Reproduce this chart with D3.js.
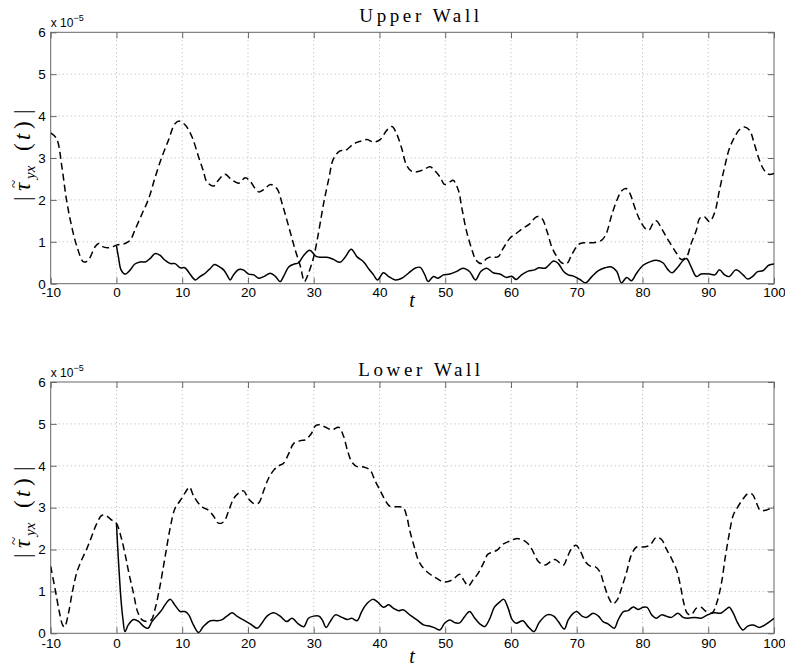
<!DOCTYPE html>
<html>
<head>
<meta charset="utf-8">
<script src="https://cdnjs.cloudflare.com/ajax/libs/d3/7.8.5/d3.min.js"></script>
<style>
    body { margin: 0; background: #fff; }
    svg { display: block; }
</style>
</head>
<body>
<svg id="mainSVG" width="785" height="670"></svg>
<script>
// ticks
const xTicks = [-10, 0, 10, 20, 30, 40, 50, 60, 70, 80, 90, 100];
const yTicks = [0, 1, 2, 3, 4, 5, 6];

// values in units of 1e-5, [t, |tau|]
const upperDashed = [[-10,3.6],[-9.1,3.46],[-8.3,2.79],[-7.6,2.0],[-6.8,1.36],[-6.0,0.88],[-5.0,0.52],[-4.3,0.56],[-3.25,0.88],[-2.7,0.96],[-2.0,0.88],[-1.0,0.86],[0,0.92],[1.3,0.96],[2.1,1.04],[2.8,1.28],[3.9,1.67],[4.9,2.03],[5.9,2.55],[6.9,3.02],[7.9,3.42],[8.9,3.82],[9.6,3.88],[10.5,3.78],[11.5,3.5],[12.5,3.02],[13.2,2.7],[13.75,2.43],[14.8,2.33],[15.5,2.47],[16.5,2.61],[17.6,2.47],[18.6,2.4],[19.6,2.53],[20.4,2.43],[21.1,2.27],[21.7,2.19],[22.6,2.27],[23.4,2.37],[24.4,2.27],[25.2,1.91],[26.2,1.36],[27.2,0.8],[28.0,0.4],[28.6,0.05],[29.2,0.25],[30,0.64],[30.8,1.28],[31.5,1.91],[32.3,2.51],[33.0,2.98],[34.0,3.17],[34.8,3.18],[36.1,3.34],[37.1,3.4],[38.1,3.44],[39.1,3.38],[40.1,3.44],[41.1,3.66],[41.9,3.75],[42.6,3.58],[43.4,3.22],[44.1,2.83],[44.9,2.68],[45.7,2.67],[46.7,2.72],[47.7,2.79],[48.4,2.7],[49.2,2.55],[49.9,2.37],[50.7,2.43],[51.2,2.47],[52.0,2.23],[52.5,1.83],[53.2,1.28],[54.0,0.84],[54.7,0.56],[55.5,0.48],[56.3,0.6],[57.0,0.64],[58.0,0.64],[58.8,0.84],[59.8,1.08],[60.8,1.2],[61.8,1.32],[62.8,1.42],[63.9,1.6],[64.7,1.56],[65.5,1.24],[66.2,0.88],[67.0,0.64],[67.7,0.5],[68.5,0.48],[69.2,0.68],[70.3,0.94],[71.3,0.98],[72.5,0.98],[73.8,1.04],[74.5,1.2],[75.3,1.63],[76.1,1.99],[76.8,2.21],[77.5,2.27],[78.1,2.15],[78.8,1.83],[79.6,1.52],[80.4,1.32],[81.0,1.28],[81.6,1.44],[82.1,1.5],[82.9,1.32],[83.6,1.12],[84.4,0.92],[85.2,0.72],[85.9,0.58],[86.7,0.64],[87.4,0.96],[88.2,1.28],[88.7,1.56],[89.4,1.6],[90.2,1.48],[91.0,1.71],[91.7,2.23],[92.5,2.79],[93.2,3.22],[94.0,3.5],[94.7,3.67],[95.5,3.74],[96.3,3.66],[97.0,3.34],[97.8,2.94],[98.5,2.71],[99.2,2.61],[100,2.63]];

const upperSolid = [[0,0.9],[0.3,0.64],[0.7,0.33],[1.3,0.23],[2.1,0.33],[2.8,0.47],[3.6,0.52],[4.4,0.52],[5.1,0.6],[5.9,0.72],[6.6,0.68],[7.4,0.56],[8.2,0.48],[8.9,0.48],[9.7,0.38],[10.4,0.38],[11.1,0.25],[12.0,0.09],[12.7,0.17],[13.5,0.25],[14.3,0.37],[14.9,0.46],[15.5,0.42],[16.3,0.33],[16.8,0.21],[17.3,0.09],[17.8,0.21],[18.6,0.34],[19.3,0.33],[20.1,0.23],[20.9,0.21],[21.6,0.13],[22.4,0.17],[23.4,0.25],[24.2,0.17],[24.9,0.05],[25.4,0.17],[26.2,0.4],[26.9,0.46],[27.7,0.5],[28.5,0.68],[29.4,0.8],[30.3,0.66],[31.0,0.63],[32.0,0.63],[33.0,0.58],[34.0,0.51],[34.8,0.64],[35.7,0.82],[36.6,0.64],[37.6,0.52],[38.3,0.37],[39.1,0.21],[39.7,0.09],[40.6,0.26],[41.4,0.17],[42.4,0.09],[43.4,0.13],[44.4,0.25],[45.4,0.37],[46.2,0.39],[46.9,0.21],[47.4,0.05],[48.2,0.17],[48.9,0.13],[49.7,0.21],[50.7,0.23],[51.7,0.29],[52.7,0.37],[53.7,0.29],[54.6,0.09],[55.4,0.29],[56.3,0.37],[57.3,0.26],[58.3,0.23],[59.3,0.15],[60.1,0.18],[60.8,0.1],[61.6,0.21],[62.6,0.3],[63.6,0.33],[64.2,0.38],[65.2,0.37],[66.5,0.54],[67.2,0.48],[68.0,0.29],[68.7,0.21],[69.5,0.18],[70.5,0.1],[71.3,0.02],[72.3,0.17],[73.3,0.31],[74.3,0.38],[75.3,0.4],[76.1,0.29],[76.8,0.02],[77.6,0.15],[78.3,0.07],[79.1,0.25],[80.1,0.44],[81.1,0.52],[82.1,0.56],[83.1,0.5],[83.9,0.33],[84.5,0.26],[85.4,0.4],[86.2,0.56],[86.7,0.6],[87.4,0.4],[88.2,0.17],[88.9,0.23],[90.2,0.23],[91.0,0.21],[91.7,0.33],[92.5,0.21],[93.2,0.17],[94.2,0.33],[95.3,0.21],[96.0,0.11],[96.8,0.18],[97.5,0.29],[98.3,0.31],[99.2,0.44],[100,0.47]];

const lowerDashed = [[-10,1.6],[-9.3,1.03],[-8.7,0.52],[-8.2,0.2],[-7.9,0.15],[-7.3,0.48],[-6.7,0.99],[-6.0,1.47],[-5.3,1.75],[-4.5,2.02],[-3.8,2.3],[-3.0,2.62],[-2.2,2.82],[-1.5,2.8],[-0.7,2.7],[0,2.62],[0.7,2.3],[1.3,1.9],[1.9,1.43],[2.6,0.95],[3.2,0.52],[3.9,0.32],[4.6,0.28],[5.3,0.32],[5.9,0.6],[6.6,1.11],[7.4,1.83],[8.2,2.54],[8.9,2.98],[9.7,3.17],[10.5,3.37],[11.1,3.49],[11.7,3.29],[12.5,3.1],[13.2,3.0],[14.0,2.94],[14.8,2.79],[15.5,2.63],[16.3,2.66],[17.1,2.94],[17.8,3.21],[18.6,3.35],[19.3,3.4],[20.1,3.21],[20.9,3.1],[21.6,3.11],[22.4,3.41],[23.1,3.69],[23.9,3.89],[24.7,4.0],[25.4,4.06],[26.2,4.29],[27.0,4.54],[28.0,4.6],[28.7,4.62],[29.6,4.76],[30.3,4.96],[31.0,4.98],[31.8,4.92],[32.8,4.86],[33.8,4.92],[34.5,4.72],[35.2,4.33],[35.8,4.09],[36.6,3.98],[37.6,3.97],[38.6,3.89],[39.3,3.65],[40.1,3.41],[40.9,3.17],[41.6,3.03],[42.6,3.02],[43.6,3.0],[44.1,2.82],[44.6,2.46],[45.3,2.06],[45.9,1.75],[46.7,1.55],[47.7,1.41],[48.7,1.31],[49.7,1.23],[50.7,1.25],[51.5,1.33],[52.2,1.41],[52.8,1.27],[53.5,1.13],[54.2,1.27],[55.0,1.43],[55.8,1.67],[56.5,1.89],[57.3,1.94],[58.0,2.0],[58.8,2.13],[59.8,2.2],[60.8,2.26],[61.6,2.24],[62.3,2.18],[62.9,2.08],[63.4,1.94],[64.2,1.71],[65.2,1.63],[66.0,1.71],[66.7,1.76],[67.5,1.67],[68.0,1.63],[68.6,1.83],[69.2,2.02],[69.9,2.1],[70.5,1.98],[71.3,1.71],[72.0,1.61],[72.8,1.59],[73.5,1.47],[74.1,1.19],[74.8,0.87],[75.5,0.7],[76.2,0.81],[76.8,1.07],[77.6,1.47],[78.3,1.87],[79.1,2.06],[80.1,2.06],[81.1,2.1],[82.1,2.29],[82.9,2.24],[83.6,2.02],[84.4,1.79],[85.2,1.51],[85.8,1.11],[86.3,0.71],[86.8,0.48],[87.4,0.44],[88.2,0.6],[88.9,0.62],[89.7,0.52],[90.6,0.49],[91.3,0.73],[92.0,1.19],[92.6,1.83],[93.2,2.38],[93.8,2.82],[94.5,3.02],[95.3,3.21],[96.0,3.33],[96.7,3.32],[97.3,3.13],[97.9,2.94],[98.8,2.94],[100,3.02]];

const lowerSolid = [[0,2.62],[0.3,1.75],[0.7,0.79],[1.0,0.32],[1.3,0.04],[1.8,0.2],[2.6,0.33],[3.4,0.28],[4.1,0.17],[4.8,0.12],[5.4,0.28],[6.1,0.41],[6.9,0.56],[7.7,0.75],[8.2,0.81],[8.9,0.67],[9.7,0.52],[10.4,0.52],[11.0,0.44],[11.7,0.2],[12.5,0.02],[13.2,0.16],[14.3,0.3],[15.3,0.3],[16.0,0.32],[16.8,0.41],[17.6,0.49],[18.3,0.41],[19.3,0.32],[20.4,0.22],[21.4,0.12],[22.1,0.24],[22.9,0.41],[23.9,0.49],[24.9,0.41],[25.9,0.28],[26.7,0.36],[27.7,0.22],[28.5,0.16],[29.2,0.36],[30.0,0.41],[30.8,0.41],[31.3,0.32],[31.9,0.14],[32.5,0.28],[33.3,0.44],[34.3,0.38],[35.1,0.33],[35.8,0.36],[36.6,0.3],[37.3,0.52],[38.1,0.71],[39.0,0.81],[39.7,0.75],[40.6,0.62],[41.4,0.68],[42.1,0.6],[42.9,0.54],[43.6,0.56],[44.6,0.44],[45.7,0.32],[46.7,0.2],[47.7,0.17],[48.4,0.13],[49.2,0.08],[49.9,0.24],[50.7,0.32],[51.5,0.25],[52.2,0.25],[53.0,0.41],[53.7,0.52],[54.5,0.36],[55.3,0.22],[56.0,0.16],[56.8,0.36],[57.5,0.63],[58.3,0.75],[58.9,0.81],[59.5,0.63],[60.2,0.32],[60.8,0.24],[61.8,0.3],[62.6,0.16],[63.5,0.04],[64.3,0.26],[65.5,0.44],[66.5,0.41],[67.2,0.28],[68.1,0.1],[68.7,0.32],[69.5,0.48],[70.0,0.52],[70.8,0.41],[71.5,0.38],[72.5,0.48],[73.3,0.41],[74.0,0.28],[74.8,0.22],[75.7,0.12],[76.3,0.32],[77.1,0.52],[77.8,0.54],[78.6,0.63],[79.3,0.57],[80.1,0.62],[80.7,0.62],[81.4,0.44],[82.1,0.36],[82.9,0.44],[83.6,0.41],[84.4,0.38],[85.4,0.48],[86.2,0.38],[86.9,0.36],[87.9,0.38],[88.9,0.36],[89.9,0.44],[90.9,0.49],[91.9,0.48],[92.7,0.57],[93.2,0.62],[93.8,0.48],[94.5,0.24],[95.3,0.08],[96.0,0.17],[96.8,0.2],[97.8,0.14],[98.8,0.22],[100,0.36]];

const svg = d3.select("#mainSVG");
const left = 50.7, right = 774;
const sq = 0.9;   // picture is a little squashed vertically
const frameColor = "#666";

const panels = [
    {id: "up", title: "Upper Wall", dashed: upperDashed, solid: upperSolid, top: 32.3, bottom: 283.7, titleY: 21.5, tickY: 13, xlabY: 307, ylabY: 154},
    {id: "lo", title: "Lower Wall", dashed: lowerDashed, solid: lowerSolid, top: 382, bottom: 633.3, titleY: 375.5, tickY: 15, xlabY: 663, ylabY: 511}
];

panels.forEach(drawPanel);

function drawPanel(p) {
    const x = d3.scaleLinear().domain([-10, 100]).range([left, right]);
    const y = d3.scaleLinear().domain([0, 6]).range([p.bottom, p.top]);
    const g = svg.append("g");

    g.append("clipPath").attr("id", "clip-" + p.id)
        .append("rect")
        .attr("x", left).attr("y", p.top)
        .attr("width", right - left).attr("height", p.bottom - p.top);

    // dotted grid
    g.append("g").selectAll("line")
        .data(xTicks.slice(1, -1))
        .join("line")
        .attr("x1", d => x(d)).attr("x2", d => x(d))
        .attr("y1", p.top).attr("y2", p.bottom)
        .attr("stroke", "#b4b4b4").attr("stroke-dasharray", "1,3");
    g.append("g").selectAll("line")
        .data(yTicks.slice(1, -1))
        .join("line")
        .attr("x1", left).attr("x2", right)
        .attr("y1", d => y(d)).attr("y2", d => y(d))
        .attr("stroke", "#b4b4b4").attr("stroke-dasharray", "1,3");

    // axes, ticks pointing in
    const fmt = d => String(d);
    const gxb = g.append("g").attr("transform", `translate(0,${p.bottom})`)
        .call(d3.axisBottom(x).tickValues(xTicks).tickSizeInner(-6).tickSizeOuter(0).tickFormat(fmt));
    const gxt = g.append("g").attr("transform", `translate(0,${p.top})`)
        .call(d3.axisTop(x).tickValues(xTicks).tickSizeInner(-6).tickSizeOuter(0).tickFormat(""));
    const gyl = g.append("g").attr("transform", `translate(${left},0)`)
        .call(d3.axisLeft(y).tickValues(yTicks).tickSizeInner(-6).tickSizeOuter(0).tickFormat(fmt));
    const gyr = g.append("g").attr("transform", `translate(${right},0)`)
        .call(d3.axisRight(y).tickValues(yTicks).tickSizeInner(-6).tickSizeOuter(0).tickFormat(""));

    [gxb, gxt, gyl, gyr].forEach(a => {
        a.select(".domain").remove();
        a.selectAll("line").attr("stroke", frameColor);
        a.selectAll("text")
            .attr("fill", "#000")
            .attr("font-family", "'Liberation Sans', Arial, sans-serif")
            .attr("font-size", 13.5);
    });
    gxb.selectAll("text")
        .attr("dy", null)
        .attr("y", p.tickY / sq)
        .attr("transform", `scale(1,${sq})`);
    gyl.selectAll("text")
        .attr("dy", null)
        .attr("x", -5)
        .attr("y", 4.3 / sq)
        .attr("transform", `scale(1,${sq})`);

    g.append("rect")
        .attr("x", left).attr("y", p.top)
        .attr("width", right - left).attr("height", p.bottom - p.top)
        .attr("fill", "none").attr("stroke", frameColor).attr("stroke-width", 1);

    // curves
    const line = d3.line()
        .x(d => x(d[0])).y(d => y(d[1]))
        .curve(d3.curveCatmullRom.alpha(0.5));
    const curves = g.append("g").attr("clip-path", `url(#clip-${p.id})`);
    curves.append("path").datum(p.dashed)
        .attr("d", line).attr("fill", "none")
        .attr("stroke", "#000").attr("stroke-width", 1.5)
        .attr("stroke-dasharray", "7,4");
    curves.append("path").datum(p.solid)
        .attr("d", line).attr("fill", "none")
        .attr("stroke", "#000").attr("stroke-width", 1.5);

    // exponent label
    const ex = g.append("text")
        .attr("x", left).attr("y", p.top - 5)
        .attr("font-family", "'Liberation Sans', Arial, sans-serif")
        .attr("font-size", 12).attr("fill", "#000");
    ex.append("tspan").text("x 10");
    ex.append("tspan").attr("font-size", 9).attr("dy", -6).text("\u22125");

    // title
    g.append("text")
        .attr("x", 421).attr("y", p.titleY)
        .attr("text-anchor", "middle")
        .attr("font-family", "'Liberation Serif', 'DejaVu Serif', serif")
        .attr("font-size", 19)
        .attr("letter-spacing", 3.6)
        .text(p.title);

    // x label
    g.append("text")
        .attr("x", 412).attr("y", p.xlabY)
        .attr("text-anchor", "middle")
        .attr("font-family", "'Liberation Serif', serif")
        .attr("font-style", "italic")
        .attr("font-size", 20)
        .text("t");

    // y label |tau~_yx (t)|, pieces placed along the rotated baseline
    const yl = g.append("g")
        .attr("transform", `translate(30,${p.ylabY}) rotate(-90)`)
        .attr("font-family", "'Liberation Serif', serif")
        .attr("font-size", 23)
        .attr("fill", "#000");
    const piece = (txt, px, py, opts = {}) => yl.append("text")
        .attr("x", px).attr("y", py)
        .attr("font-style", opts.italic ? "italic" : null)
        .attr("font-size", opts.size || null)
        .text(txt);
    piece("|", -47, 0);
    piece("\u03C4", -37, 0, {italic: true});
    piece("~", -34, -11, {size: 15});
    piece("yx", -25, 5, {italic: true, size: 15});
    piece("(", 3, 0);
    piece("t", 14, 0, {italic: true});
    piece(")", 25, 0);
    piece("|", 40, 0);
}
</script>
</body>
</html>
